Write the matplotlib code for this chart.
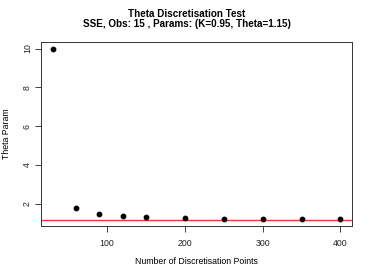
import matplotlib
matplotlib.use("Agg")
import matplotlib.pyplot as plt

# discretisation points tested and the resulting theta estimate
n_points = [30, 60, 90, 120, 150, 200, 250, 300, 350, 400]
theta_est = [10.0, 1.79, 1.48, 1.38, 1.33, 1.28, 1.24, 1.23, 1.22, 1.21]
true_theta = 1.15
yticks = [2, 4, 6, 8, 10]
xticks = [100, 200, 300, 400]

plt.rcParams['font.family'] = ['Liberation Sans', 'DejaVu Sans']

fig = plt.figure(figsize=(3.74, 2.78), dpi=100)
ax = fig.add_axes([0.1096, 0.187, 0.8314, 0.663])

ax.scatter(n_points, theta_est, s=10, color='black', zorder=3)
ax.axhline(true_theta, color='#ff3030', lw=1.0)

# R style 4% padding around the data
xr = max(n_points) - min(n_points)
yr = max(theta_est) - min(theta_est)
ax.set_xlim(min(n_points) - 0.04 * xr, max(n_points) + 0.04 * xr)
ax.set_ylim(min(theta_est) - 0.04 * yr, max(theta_est) + 0.04 * yr)

ax.set_xticks(xticks)
ax.set_yticks(yticks)
ax.set_yticklabels([str(v) for v in yticks], rotation=90, va='center')
ax.tick_params(labelsize=6.3, length=4, width=0.6, colors='#222222')
ax.tick_params(axis='x', pad=5)
ax.tick_params(axis='y', pad=2.5)
for s in ax.spines.values():
    s.set_linewidth(0.7)
    s.set_color('#333333')

# axis titles placed like R's mtext lines
fig.text(0.5254, 1 - 262 / 278, 'Number of Discretisation Points',
         ha='center', va='center', fontsize=6.3)
fig.text(7 / 374, 1 - 134 / 278, 'Theta Param', rotation=90,
         ha='center', va='center', fontsize=6.3)
fig.text(0.5, 0.948, 'Theta Discretisation Test', ha='center', va='center',
         fontsize=7.1, fontweight='bold')
fig.text(0.5, 0.912, 'SSE, Obs: 15 , Params: (K=0.95, Theta=1.15)', ha='center',
         va='center', fontsize=7.1, fontweight='bold')

fig.savefig('out.png', dpi=100)
